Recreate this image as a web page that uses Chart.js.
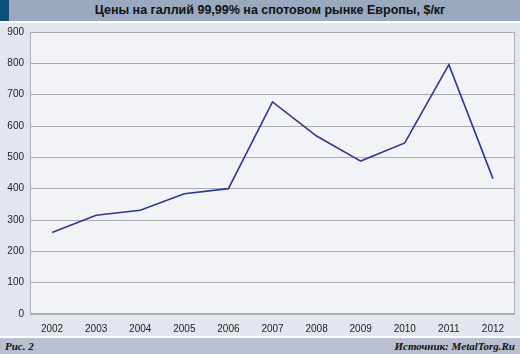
<!DOCTYPE html>
<html lang="ru">
<head>
    <meta charset="UTF-8">
    <title>Цены на галлий</title>
    <script src="https://cdn.jsdelivr.net/npm/chart.js"></script>
    <style>
        body {
            margin: 0;
            width: 520px;
            height: 354px;
            background: #e2e7ee;
            font-family: "Liberation Sans", Arial, sans-serif;
            position: relative;
            overflow: hidden;
        }
        #title {
            position: absolute;
            left: 0; top: 0;
            width: 520px; height: 21px;
            background: #9aa8c0;
            color: #111;
            font-weight: bold;
            font-size: 12.5px;
            line-height: 21px;
            text-align: center;
            text-indent: 20px;
        }
        #accent {
            position: absolute;
            left: 0; top: 0;
            width: 9px; height: 21px;
            background: #0f4f7c;
        }
        #sep1 { position: absolute; left: 0; top: 21px; width: 520px; height: 2px; background: #ffffff; }
        #sep2 { position: absolute; left: 0; top: 336px; width: 520px; height: 2px; background: #ffffff; }
        #footer {
            position: absolute;
            left: 0; top: 338px;
            width: 520px; height: 16px;
            background: #b8c0d2;
            font-family: "Liberation Serif", "DejaVu Serif", serif;
            font-style: italic;
            font-weight: bold;
            font-size: 11px;
            line-height: 16px;
            color: #111;
        }
        #footer .l { position: absolute; left: 5px; }
        #footer .r { position: absolute; right: 5px; }
        #wrap { position: absolute; left: 0; top: 20px; width: 520px; height: 316px; }
    </style>
</head>
<body>
    <div id="wrap"><canvas id="chart" width="520" height="316"></canvas></div>
    <div id="title">Цены на галлий 99,99% на спотовом рынке Европы, $/кг</div>
    <div id="accent"></div>
    <div id="sep1"></div>
    <div id="sep2"></div>
    <div id="footer"><span class="l">Рис. 2</span><span class="r">Источник: MetalTorg.Ru</span></div>
    <script>
        const years = ['2002', '2003', '2004', '2005', '2006', '2007', '2008', '2009', '2010', '2011', '2012'];
        const prices = [260, 315, 331, 384, 400, 677, 568, 488, 546, 796, 432];

        // фон и рамка области графика
        const plotBg = {
            id: 'plotBg',
            beforeDraw(chart) {
                const a = chart.chartArea, c = chart.ctx;
                c.save();
                c.fillStyle = '#f1f3f7';
                c.fillRect(a.left, a.top, a.right - a.left, a.bottom - a.top);
                c.restore();
            },
            afterDatasetsDraw(chart) {
                const a = chart.chartArea, c = chart.ctx;
                c.save();
                c.strokeStyle = '#a9acb3';
                c.lineWidth = 1;
                c.strokeRect(a.left + 0.5, a.top + 0.5, a.right - a.left - 1, a.bottom - a.top - 1);
                c.restore();
            }
        };

        new Chart(document.getElementById('chart'), {
            type: 'line',
            data: {
                labels: years,
                datasets: [{
                    data: prices,
                    borderColor: '#2b3a8c',
                    borderWidth: 1.6,
                    pointRadius: 0,
                    tension: 0
                }]
            },
            options: {
                responsive: false,
                animation: false,
                layout: { padding: { top: 3, right: 5, left: 0, bottom: 0 } },
                plugins: { legend: { display: false }, tooltip: { enabled: false } },
                scales: {
                    x: {
                        offset: true,
                        grid: { display: false },
                        border: { display: false },
                        ticks: { color: '#222', font: { size: 10, family: 'Liberation Sans' }, maxRotation: 0, padding: 1 },
                        afterFit(s) { s.height = 22; }
                    },
                    y: {
                        min: 0, max: 900,
                        ticks: { stepSize: 100, color: '#222', font: { size: 10, family: 'Liberation Sans' }, padding: 6 },
                        grid: { color: '#a9acb3', drawTicks: false },
                        border: { display: false },
                        afterFit(s) { s.width = 30; }
                    }
                }
            },
            plugins: [plotBg]
        });
    </script>
</body>
</html>
